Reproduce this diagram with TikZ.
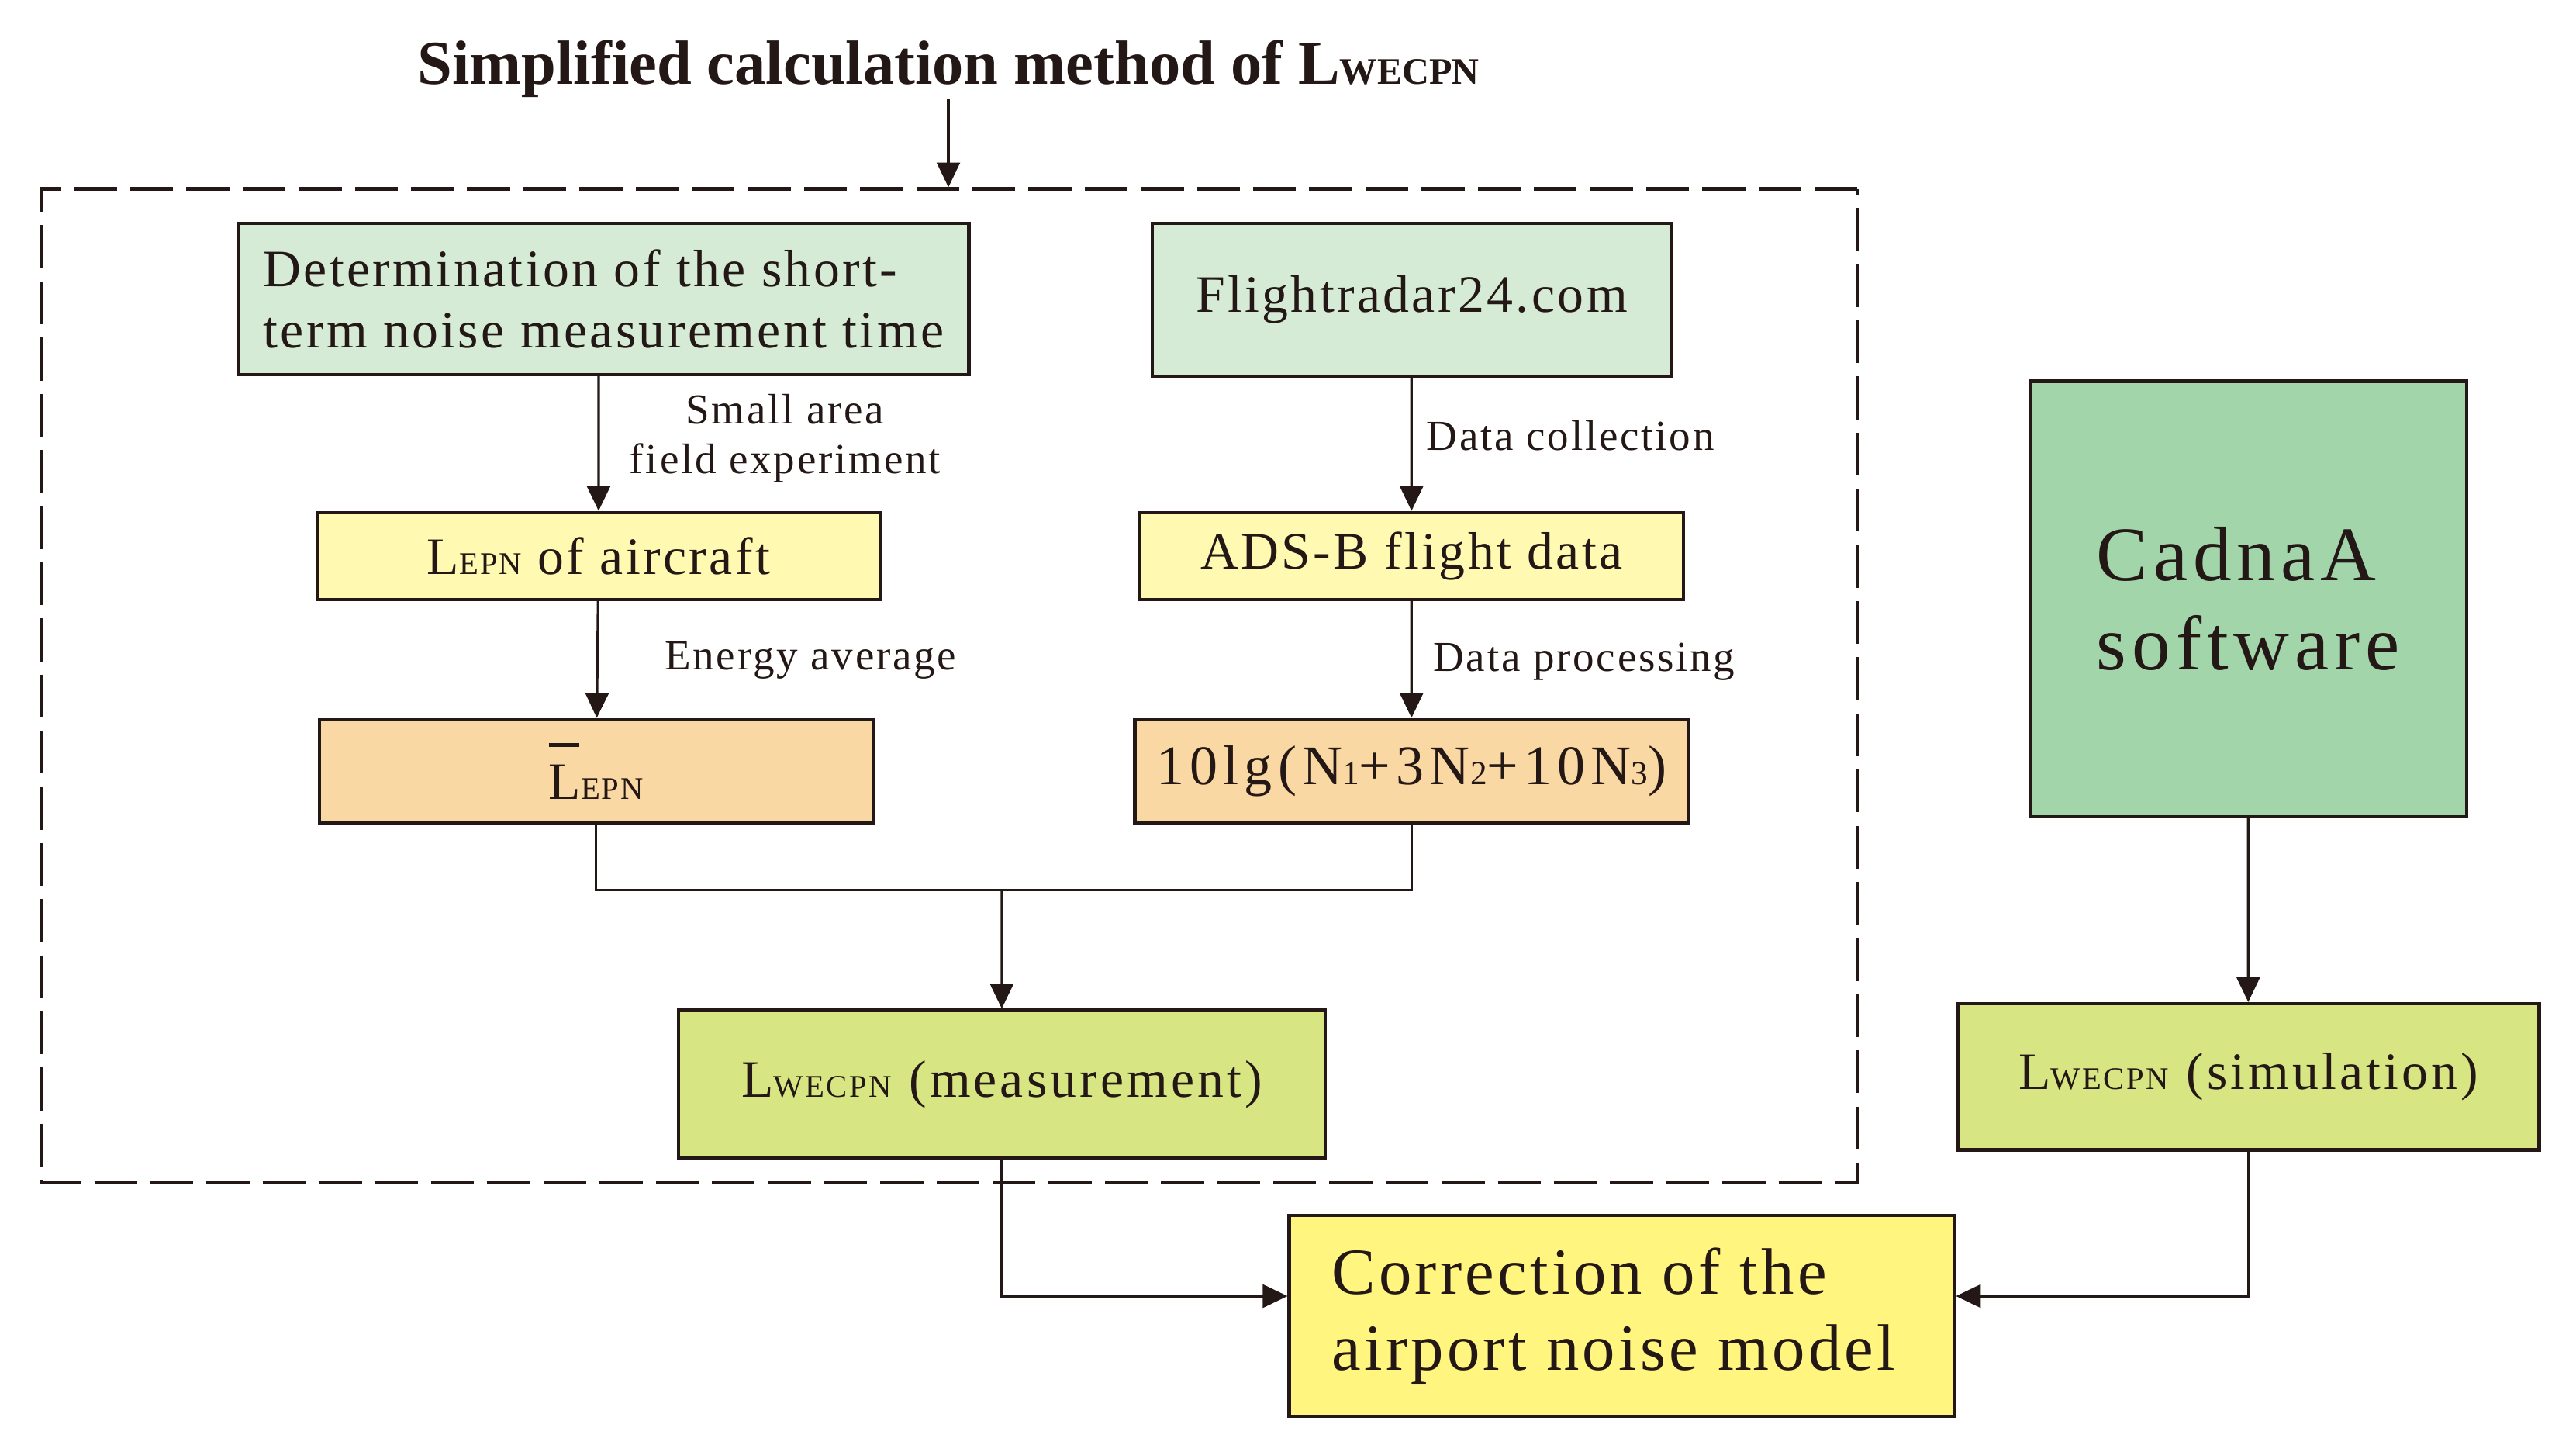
\documentclass[tikz,border=0pt]{standalone}
\usepackage{fontspec}
\setmainfont{Liberation Serif}[LetterSpace=5]
\newfontfamily\titlefont{Liberation Serif}
\usetikzlibrary{arrows.meta}

\definecolor{ink}{HTML}{231815}
\definecolor{paleGreen}{HTML}{D5EBD6}
\definecolor{paleYellow}{HTML}{FFF9B2}
\definecolor{paleOrange}{HTML}{FAD8A3}
\definecolor{limeGreen}{HTML}{D8E583}
\definecolor{midGreen}{HTML}{A3D5AB}
\definecolor{brightYellow}{HTML}{FFF57F}

% small capitals standing on the baseline
\newcommand{\lsub}[1]{\scalebox{0.6}{#1}}
\newcommand{\Lbar}{\makebox[0pt][l]{\raisebox{1.0em}{\rule{0.58em}{0.06em}}}L}

\begin{document}
\begin{tikzpicture}[x=1pt,y=-1pt,scale=0.9946,every node/.append style={transform shape},
  color=ink,line width=1.5pt,
  box/.style={draw=ink,line width=2pt,inner sep=0pt,align=center,
    font=\fontsize{32}{37}\selectfont},
  lab/.style={inner sep=0pt,font=\fontsize{26}{30}\selectfont},
  arr/.style={-{Triangle[length=15pt,width=14pt]}}]
\useasboundingbox (0,0) rectangle (1568.5,883.4);

% Title and frame
\node[anchor=base,inner sep=0pt,font=\titlefont\bfseries\fontsize{38}{44}\selectfont] (title) at (577.5,51) {Simplified calculation method of L\lsub{WECPN}};
\node[draw=ink,line width=2pt,dash pattern=on 26pt off 8pt,minimum width=1106,minimum height=605] (frame) at (578,417.5) {};
\draw[arr] (title.south) -- (title.south |- frame.north);

% Left column
\node[box,fill=paleGreen,minimum width=445,minimum height=92,align=left] (det) at (367.5,182) {Determination of the short-\\term noise measurement time};
\node[box,fill=paleYellow,minimum width=343,minimum height=53] (lepn) at (364.5,338.5) {L\lsub{EPN} of aircraft};
\node[box,fill=paleOrange,minimum width=337,minimum height=63] (lbar) at (363,469.5) {\Lbar\lsub{EPN}};

% Right column
\node[box,fill=paleGreen,minimum width=316,minimum height=93] (radar) at (859.5,182.5) {Flightradar24.com};
\node[box,fill=paleYellow,minimum width=331,minimum height=53] (adsb) at (859.5,338.5) {ADS-B flight data};
\node[box,fill=paleOrange,minimum width=337,minimum height=63,font=\fontsize{34}{37}\selectfont\addfontfeature{LetterSpace=10}] (calc) at (859.5,469.5) {10lg(N\lsub{1}+3N\lsub{2}+10N\lsub{3})};

% Results
\node[box,fill=limeGreen,minimum width=394,minimum height=90,font=\fontsize{32}{37}\selectfont\addfontfeature{LetterSpace=6}] (meas) at (610,660) {L\lsub{WECPN}\,\,(measurement)};
\node[box,fill=midGreen,minimum width=266,minimum height=265,align=left,font=\fontsize{47}{54}\selectfont\addfontfeature{LetterSpace=7}] (cadna) at (1369,364.5) {CadnaA\\software};
\node[box,fill=limeGreen,minimum width=354,minimum height=89,font=\fontsize{32}{37}\selectfont\addfontfeature{LetterSpace=6}] (sim) at (1369,655.5) {L\lsub{WECPN}\,\,(simulation)};
\node[box,fill=brightYellow,minimum width=405,minimum height=122,align=left,font=\fontsize{40}{46}\selectfont] (corr) at (987.5,801) {\hspace*{-10pt}Correction of the\\\hspace*{-10pt}airport noise model};

% Labels
\node[lab,align=center] (l1) at (478,267) {Small area\\field experiment};
\node[lab,anchor=west] (l2) at (868,265) {Data collection};
\node[lab,anchor=west] (l3) at (404,402) {Energy average};
\node[lab,anchor=west] (l4) at (872,403) {Data processing};

% Connectors
\draw[arr] (det.south -| lepn) -- (lepn);
\draw[arr] (lepn) -- (lbar);
\draw[arr] (radar) -- (adsb);
\draw[arr] (adsb) -- (calc);
\coordinate (join) at (610,542);
\draw (lbar.south) |- (join) -| (calc.south);
\draw[arr] (join) -- (meas);
\draw[arr] (cadna) -- (sim);
\draw[arr] (meas.south) |- ([yshift=12pt]corr.west);
\draw[arr] (sim.south) |- ([yshift=12pt]corr.east);
\end{tikzpicture}
\end{document}
